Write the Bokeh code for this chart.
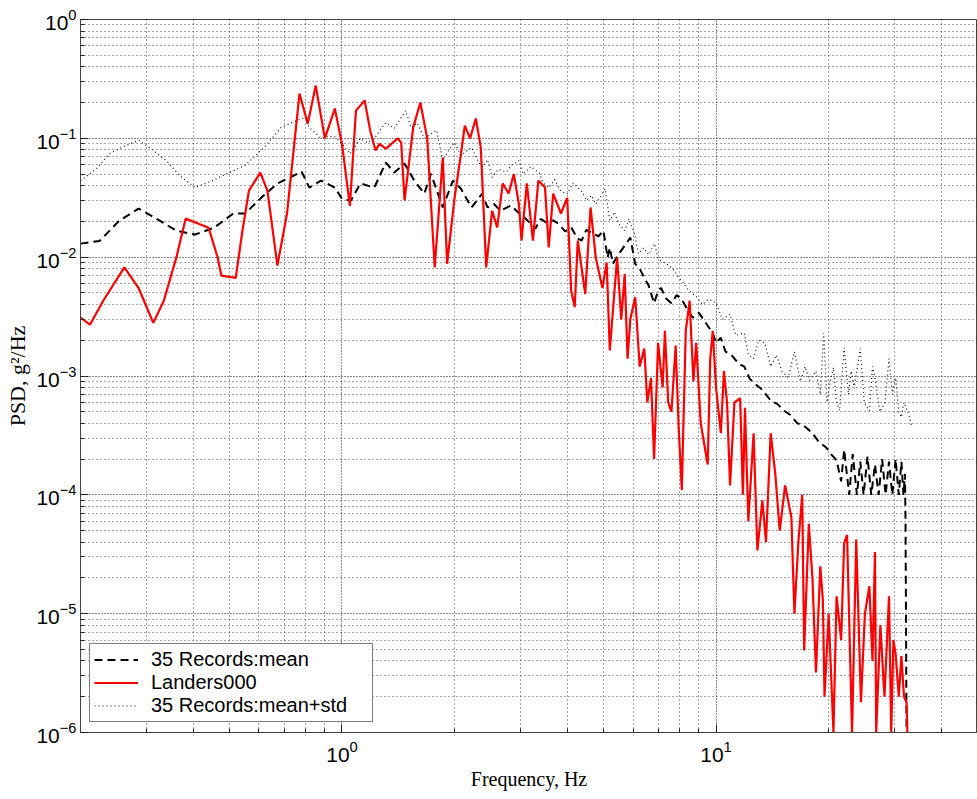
from bokeh.plotting import figure
from bokeh.models import (ColumnDataSource, FixedTicker, Legend, LegendItem)
from bokeh.embed import file_html
from bokeh.resources import INLINE

# ---------------- data ----------------
mean_f = [0.20, 0.225, 0.254, 0.286, 0.316, 0.361, 0.405, 0.455, 0.512, 0.551, 0.605, 0.672,
          0.726, 0.78, 0.818, 0.879, 0.957, 1.0, 1.057, 1.12, 1.22, 1.31, 1.38, 1.47, 1.56, 1.66,
          1.73, 1.86, 1.98, 2.08, 2.22, 2.37, 2.45, 2.55, 2.65, 2.83, 2.95, 3.08, 3.2, 3.29, 3.4,
          3.51, 3.67, 3.8, 3.95, 4.1, 4.25, 4.37, 4.5, 4.67, 4.85, 5.0, 5.13, 5.2, 5.3, 5.5, 5.7,
          5.9, 6.08, 6.25, 6.43, 6.6, 6.83, 7.0, 7.13, 7.35, 7.6, 7.85, 8.1, 8.4, 8.66, 9.0, 9.46,
          9.8, 10.0, 10.3, 10.6, 11.0, 11.5, 11.9, 12.3, 12.7, 13.2, 13.6, 14.0, 14.6, 15.2, 15.8,
          16.5, 17.2, 18.1, 18.8, 19.7, 20.3, 21.0, 21.6, 22.0, 22.7, 23.2, 23.8, 24.3, 24.8, 25.4,
          26.0, 26.6, 27.2, 27.8, 28.4, 29.0, 29.6, 30.2, 30.8, 31.3, 31.7, 32.0, 32.1, 32.2, 32.3,
          32.35]
mean_v = [0.0130, 0.0137, 0.0203, 0.0256, 0.0215, 0.0167, 0.0155, 0.0177, 0.0233, 0.0233, 0.0311,
          0.0417, 0.0468, 0.0525, 0.0385, 0.0441, 0.0385, 0.031, 0.030, 0.0417, 0.0385, 0.0625,
          0.0515, 0.0614, 0.0441, 0.0343, 0.0503, 0.0262, 0.0441, 0.0376, 0.0262, 0.0343, 0.0262,
          0.028, 0.0246, 0.0272, 0.024, 0.0215, 0.019, 0.0174, 0.021, 0.0196, 0.0204, 0.019,
          0.0165, 0.0178, 0.0145, 0.0138, 0.017, 0.0159, 0.015, 0.0167, 0.0099, 0.012, 0.0088,
          0.0107, 0.0125, 0.0146, 0.0088, 0.0080, 0.0067, 0.0058, 0.0041, 0.0052, 0.0055, 0.0045,
          0.0041, 0.0048, 0.0044, 0.0036, 0.0031, 0.0034, 0.0027, 0.0023, 0.0019, 0.0021, 0.0016,
          0.0015, 0.00127, 0.0012, 0.00095, 0.00086, 0.00078, 0.0007, 0.00062, 0.00058, 0.00051,
          0.00047, 0.0004, 0.00038, 0.00033, 0.00028, 0.00025, 0.00022, 0.000195, 0.00013,
          0.00024, 0.0001, 0.00022, 0.0001, 0.00019, 0.0001, 0.00021, 0.0001, 0.00018, 0.0001,
          0.0002, 0.0001, 0.00019, 0.0001, 0.0002, 0.0001, 0.00019, 0.0001, 0.00015, 0.00006,
          0.00001, 0.000001, 0.0000001]

landers_f = [0.200, 0.212, 0.230, 0.262, 0.286, 0.313, 0.334, 0.361, 0.382, 0.412, 0.440, 0.465,
             0.476, 0.520, 0.542, 0.564, 0.605, 0.632, 0.672, 0.713, 0.770, 0.810, 0.851, 0.900,
             0.957, 1.00, 1.05, 1.09, 1.15, 1.19, 1.23, 1.26, 1.31, 1.41, 1.44, 1.47, 1.55, 1.62,
             1.69, 1.77, 1.86, 1.91, 2.00, 2.08, 2.13, 2.20, 2.28, 2.35, 2.43, 2.52, 2.60, 2.69,
             2.79, 2.88, 2.97, 3.02, 3.12, 3.24, 3.35, 3.49, 3.57, 3.67, 3.85, 4.00, 4.10, 4.19,
             4.27, 4.47, 4.62, 4.77, 4.97, 5.10, 5.20, 5.44, 5.58, 5.70, 5.80, 5.90, 6.08, 6.25,
             6.43, 6.55, 6.70, 6.83, 7.00, 7.20, 7.30, 7.45, 7.60, 7.80, 7.95, 8.10, 8.30, 8.50,
             8.70, 8.85, 9.10, 9.50, 9.65, 9.80, 10.0, 10.3, 10.5, 10.7, 10.9, 11.2, 11.6, 11.8,
             11.95, 12.2, 12.6, 12.9, 13.3, 13.6, 14.0, 14.4, 14.8, 15.3, 15.9, 16.2, 16.6, 17.0,
             17.2, 17.7, 18.1, 18.5, 19.0, 19.3, 19.5, 20.0, 20.6, 21.0, 21.6, 22.0, 22.4, 23.1,
             23.7, 24.4, 25.0, 25.7, 26.2, 26.6, 26.8, 27.5, 28.2, 29.0, 29.4, 29.8, 30.2, 30.8,
             31.3, 31.8, 32.3, 32.7]
landers_v = [0.0031, 0.0027, 0.0043, 0.0082, 0.0055, 0.0028, 0.0043, 0.010, 0.0211, 0.0192,
             0.0177, 0.010, 0.0070, 0.0067, 0.0167, 0.0363, 0.0515, 0.0363, 0.0085, 0.0233, 0.238,
             0.133, 0.278, 0.100, 0.178, 0.090, 0.027, 0.171, 0.208, 0.116, 0.079, 0.090, 0.082,
             0.100, 0.092, 0.030, 0.123, 0.200, 0.100, 0.0082, 0.069, 0.0088, 0.0316, 0.074, 0.128,
             0.100, 0.147, 0.084, 0.0082, 0.0246, 0.0178, 0.0417, 0.0343, 0.050, 0.0283, 0.0138,
             0.0417, 0.0138, 0.0441, 0.0385, 0.0121, 0.0343, 0.0233, 0.0316, 0.0052, 0.0038,
             0.0138, 0.0049, 0.0262, 0.0099, 0.0055, 0.0090, 0.00164, 0.0099, 0.0030, 0.0072,
             0.0014, 0.0030, 0.0046, 0.0012, 0.0017, 0.0006, 0.00096, 0.0002, 0.0019, 0.0008,
             0.0024, 0.0006, 0.0005, 0.0018, 0.00035, 0.00011, 0.0024, 0.0043, 0.0009, 0.0019,
             0.0004, 0.00018, 0.0014, 0.0024, 0.0008, 0.00033, 0.0011, 0.0006, 0.00012, 0.0006,
             0.00065, 0.0001, 0.00054, 0.00006, 0.00033, 0.000034, 0.00009, 0.00004, 0.00033,
             0.00015, 0.00005, 0.00012, 0.000065, 0.00001, 0.00004, 0.0001, 0.0000049, 0.000057,
             0.00002, 0.0000032, 0.000025, 0.000013, 0.000002, 0.00001, 0.000001, 0.000014,
             0.000006, 0.000039, 0.000046, 0.000001, 0.000042, 0.0000018, 0.00001, 0.000017,
             0.000004, 0.000033, 0.000001, 0.000008, 0.000002, 0.000014, 0.000001, 0.000006,
             0.0000046, 0.000002, 0.0000044, 0.000002, 0.0000018, 0.0000005]

std_f = [0.20, 0.22, 0.239, 0.26, 0.286, 0.305, 0.339, 0.37, 0.405, 0.45, 0.49, 0.55, 0.62, 0.687,
         0.75, 0.80, 0.818, 0.85, 0.879, 0.92, 0.957, 1.0, 1.05, 1.12, 1.17, 1.22, 1.31, 1.38,
         1.48, 1.53, 1.59, 1.66, 1.79, 1.86, 1.93, 2.0, 2.08, 2.22, 2.30, 2.37, 2.45, 2.52, 2.62,
         2.75, 2.83, 2.97, 3.05, 3.2, 3.37, 3.45, 3.58, 3.7, 3.85, 4.0, 4.15, 4.37, 4.5, 4.65,
         4.77, 4.9, 5.05, 5.2, 5.35, 5.5, 5.7, 5.85, 6.05, 6.2, 6.4, 6.6, 6.85, 7.0, 7.13, 7.35,
         7.6, 7.8, 7.95, 8.15, 8.35, 8.6, 8.9, 9.2, 9.5, 9.8, 10.0, 10.4, 10.9, 11.3, 11.9, 12.2,
         12.6, 13.0, 13.5, 14.0, 14.5, 15.0, 15.6, 16.2, 16.8, 17.3, 17.8, 18.5, 19.0, 19.4, 19.8,
         20.2, 20.6, 21.0, 21.4, 22.0, 22.6, 23.0, 23.4, 24.3, 24.9, 25.7, 26.2, 26.6, 27.4, 28.3,
         29.0, 29.6, 30.2, 30.8, 31.3, 31.8, 32.7, 33.4]
std_v = [0.044, 0.055, 0.0745, 0.085, 0.096, 0.084, 0.065, 0.048, 0.0385, 0.044, 0.050, 0.059,
         0.084, 0.123, 0.14, 0.15, 0.123, 0.11, 0.10, 0.104, 0.103, 0.09, 0.074, 0.0995, 0.092,
         0.10, 0.136, 0.121, 0.171, 0.123, 0.135, 0.10, 0.117, 0.065, 0.08, 0.092, 0.072, 0.084,
         0.066, 0.057, 0.066, 0.047, 0.055, 0.052, 0.059, 0.065, 0.05, 0.058, 0.051, 0.042,
         0.0385, 0.045, 0.036, 0.034, 0.042, 0.036, 0.030, 0.033, 0.028, 0.032, 0.0376, 0.0204,
         0.024, 0.019, 0.0167, 0.021, 0.0159, 0.0107, 0.012, 0.0105, 0.013, 0.0098, 0.0093,
         0.0088, 0.0082, 0.0074, 0.0067, 0.0062, 0.0055, 0.0050, 0.0046, 0.0040, 0.0044, 0.0043,
         0.0041, 0.0030, 0.0033, 0.0022, 0.0023, 0.0015, 0.0014, 0.0020, 0.0019, 0.0012, 0.0015,
         0.0011, 0.00097, 0.0016, 0.0009, 0.0012, 0.00092, 0.0011, 0.0007, 0.0023, 0.0006, 0.0009,
         0.00118, 0.0006, 0.00051, 0.00173, 0.0007, 0.0011, 0.00079, 0.0017, 0.0006, 0.00051,
         0.0012, 0.00097, 0.0005, 0.0006, 0.0014, 0.0007, 0.00097, 0.0005, 0.00045, 0.0006,
         0.00048, 0.00037]

x_major = [0.1, 1, 10, 100]
x_minor = [0.2, 0.3, 0.4, 0.5, 0.6, 0.7, 0.8, 0.9, 2, 3, 4, 5, 6, 7, 8, 9, 20, 30, 40, 50]
y_major = [1e-6, 1e-5, 1e-4, 1e-3, 1e-2, 1e-1, 1]
y_minor = [m * d for d in [1e-6, 1e-5, 1e-4, 1e-3, 1e-2, 1e-1] for m in range(2, 10)]

labels = ["35 Records:mean", "Landers000", "35 Records:mean+std"]

# ---------------- figure ----------------
p = figure(width=977, height=799, x_axis_type="log", y_axis_type="log",
           x_range=(0.2, 50), y_range=(1e-6, 1),
           output_backend="svg", toolbar_location=None,
           min_border_left=80, min_border_right=0, min_border_top=19, min_border_bottom=67)
p.background_fill_color = "white"
p.border_fill_color = "white"
p.outline_line_color = "#444444"
p.outline_line_width = 1

xt = FixedTicker(ticks=x_major, minor_ticks=x_minor)
yt = FixedTicker(ticks=y_major, minor_ticks=y_minor)
p.xaxis.ticker = xt
p.yaxis.ticker = yt
p.xgrid.ticker = xt
p.ygrid.ticker = yt

for g in (p.xgrid, p.ygrid):
    g.grid_line_color = "#000000"
    g.grid_line_alpha = 0.9
    g.grid_line_dash = "1 2"
    g.grid_line_width = 1
    g.minor_grid_line_color = "#000000"
    g.minor_grid_line_alpha = 0.7
    g.minor_grid_line_dash = "1 3"
    g.minor_grid_line_width = 1

for ax in (p.xaxis, p.yaxis):
    ax.major_tick_in = 8
    ax.major_tick_out = 0
    ax.minor_tick_in = 4
    ax.minor_tick_out = 0
    ax.axis_line_color = "#444444"
    ax.major_tick_line_color = "#222222"
    ax.minor_tick_line_color = "#222222"
    ax.major_label_text_font = "Liberation Sans"
    ax.major_label_text_font_size = "21px"
    ax.major_label_text_color = "#000000"
    ax.axis_label_text_font = "Liberation Serif"
    ax.axis_label_text_font_style = "normal"
    ax.axis_label_text_color = "#000000"

p.xaxis.axis_label = "Frequency, Hz"
p.yaxis.axis_label = "PSD, g²/Hz"
p.xaxis.axis_label_text_font_size = "20px"
p.yaxis.axis_label_text_font_size = "22px"
p.yaxis.major_label_standoff = 4
p.xaxis.major_label_standoff = 8
p.xaxis.axis_label_standoff = 3
p.yaxis.axis_label_standoff = 3

src_mean = ColumnDataSource(data=dict(f=mean_f, v=mean_v))
src_land = ColumnDataSource(data=dict(f=landers_f, v=landers_v))
src_std = ColumnDataSource(data=dict(f=std_f, v=std_v))

r_mean = p.line("f", "v", source=src_mean, line_color="black", line_width=2,
                line_dash="8 5")
r_land = p.line("f", "v", source=src_land, line_color="#ff0000", line_width=2.2)
r_std = p.line("f", "v", source=src_std, line_color="#111111", line_width=1.2,
               line_dash="1 3")

legend = Legend(items=[LegendItem(label=labels[0], renderers=[r_mean]),
                       LegendItem(label=labels[1], renderers=[r_land]),
                       LegendItem(label=labels[2], renderers=[r_std])],
                location=(9, 10))
legend.label_text_font = "Liberation Sans"
legend.label_text_font_size = "20px"
legend.label_text_color = "#000000"
legend.border_line_color = "black"
legend.border_line_width = 1
legend.background_fill_color = "white"
legend.background_fill_alpha = 1
legend.padding = 4
legend.spacing = 0
legend.margin = 0
legend.label_height = 23
legend.glyph_height = 23
legend.glyph_width = 44
legend.label_standoff = 13
legend.label_width = 217
p.add_layout(legend)

open("out.html", "w").write(file_html(p, INLINE))
